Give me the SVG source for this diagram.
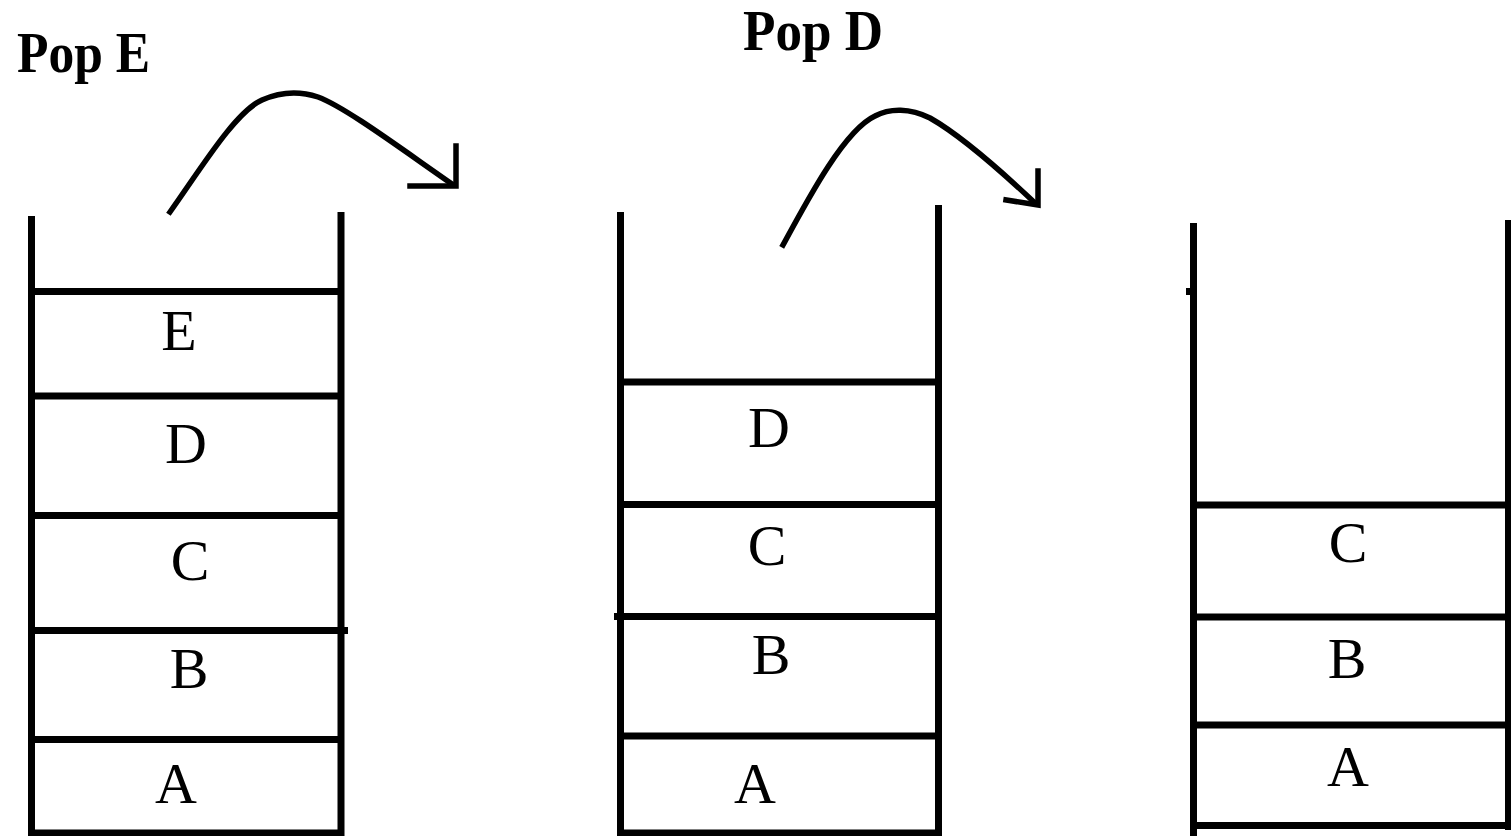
<svg xmlns="http://www.w3.org/2000/svg" width="1511" height="836" viewBox="0 0 1511 836">
<style>
.w{stroke:#000;stroke-width:7;fill:none;stroke-linecap:butt}
.arc{stroke:#000;stroke-width:5.5;fill:none;stroke-linecap:square;stroke-linejoin:miter}
.lbl{font-family:"Liberation Serif","Times New Roman",serif;font-size:58px;fill:#000;text-anchor:middle}
.ttl{font-family:"Liberation Serif","Times New Roman",serif;font-size:58px;font-weight:bold;fill:#000}
</style>
<rect width="1511" height="836" fill="#fff"/>
<text class="ttl" x="17" y="72" textLength="133" lengthAdjust="spacingAndGlyphs">Pop E</text>
<text class="ttl" x="743" y="50" textLength="140" lengthAdjust="spacingAndGlyphs">Pop D</text>
<g id="stack1">
<line class="w" x1="31.5" y1="216" x2="31.5" y2="836"/>
<line class="w" x1="341" y1="212" x2="341" y2="836"/>
<line class="w" x1="31" y1="291.5" x2="341" y2="291.5"/>
<line class="w" x1="31" y1="396" x2="341" y2="396"/>
<line class="w" x1="31" y1="515.5" x2="341" y2="515.5"/>
<line class="w" x1="31" y1="630.5" x2="348" y2="630.5"/>
<line class="w" x1="31" y1="739.5" x2="341" y2="739.5"/>
<line class="w" x1="31" y1="833" x2="341" y2="833"/>
<text class="lbl" x="179" y="350">E</text>
<text class="lbl" x="186" y="463">D</text>
<text class="lbl" x="190" y="580">C</text>
<text class="lbl" x="189" y="688">B</text>
<text class="lbl" x="176" y="803">A</text>
</g>
<g id="stack2">
<line class="w" x1="620.5" y1="212" x2="620.5" y2="836"/>
<line class="w" x1="938.5" y1="205" x2="938.5" y2="836"/>
<line class="w" x1="620" y1="382" x2="938" y2="382"/>
<line class="w" x1="620" y1="504.5" x2="938" y2="504.5"/>
<line class="w" x1="614" y1="616.5" x2="938" y2="616.5"/>
<line class="w" x1="620" y1="736" x2="938" y2="736"/>
<line class="w" x1="620" y1="833" x2="938" y2="833"/>
<text class="lbl" x="769" y="447">D</text>
<text class="lbl" x="767" y="565">C</text>
<text class="lbl" x="771" y="674">B</text>
<text class="lbl" x="755" y="803">A</text>
</g>
<g id="stack3">
<line class="w" x1="1193.5" y1="223" x2="1193.5" y2="836"/>
<line class="w" x1="1186" y1="291.5" x2="1193" y2="291.5"/>
<line class="w" x1="1508.5" y1="220" x2="1508.5" y2="830"/>
<line class="w" x1="1193" y1="505" x2="1511" y2="505"/>
<line class="w" x1="1193" y1="617" x2="1511" y2="617"/>
<line class="w" x1="1193" y1="725" x2="1511" y2="725"/>
<line class="w" x1="1193" y1="825.5" x2="1511" y2="825.5"/>
<text class="lbl" x="1348" y="562">C</text>
<text class="lbl" x="1347" y="678">B</text>
<text class="lbl" x="1348" y="786">A</text>
</g>
<g id="connectors">
<path class="arc" d="M170,212 C200,170 235,112 262,100 C280,92 300,91 318,97 C345,107 400,148 452,184"/>
<path class="arc" d="M456,146 L456,186 L410,186"/>
<path class="arc" d="M783,245 C810,195 845,130 875,116 C890,108 910,108 930,118 C960,135 1000,170 1035,203"/>
<path class="arc" d="M1038,171 L1038,205 L1006,200"/>
</g>
</svg>
